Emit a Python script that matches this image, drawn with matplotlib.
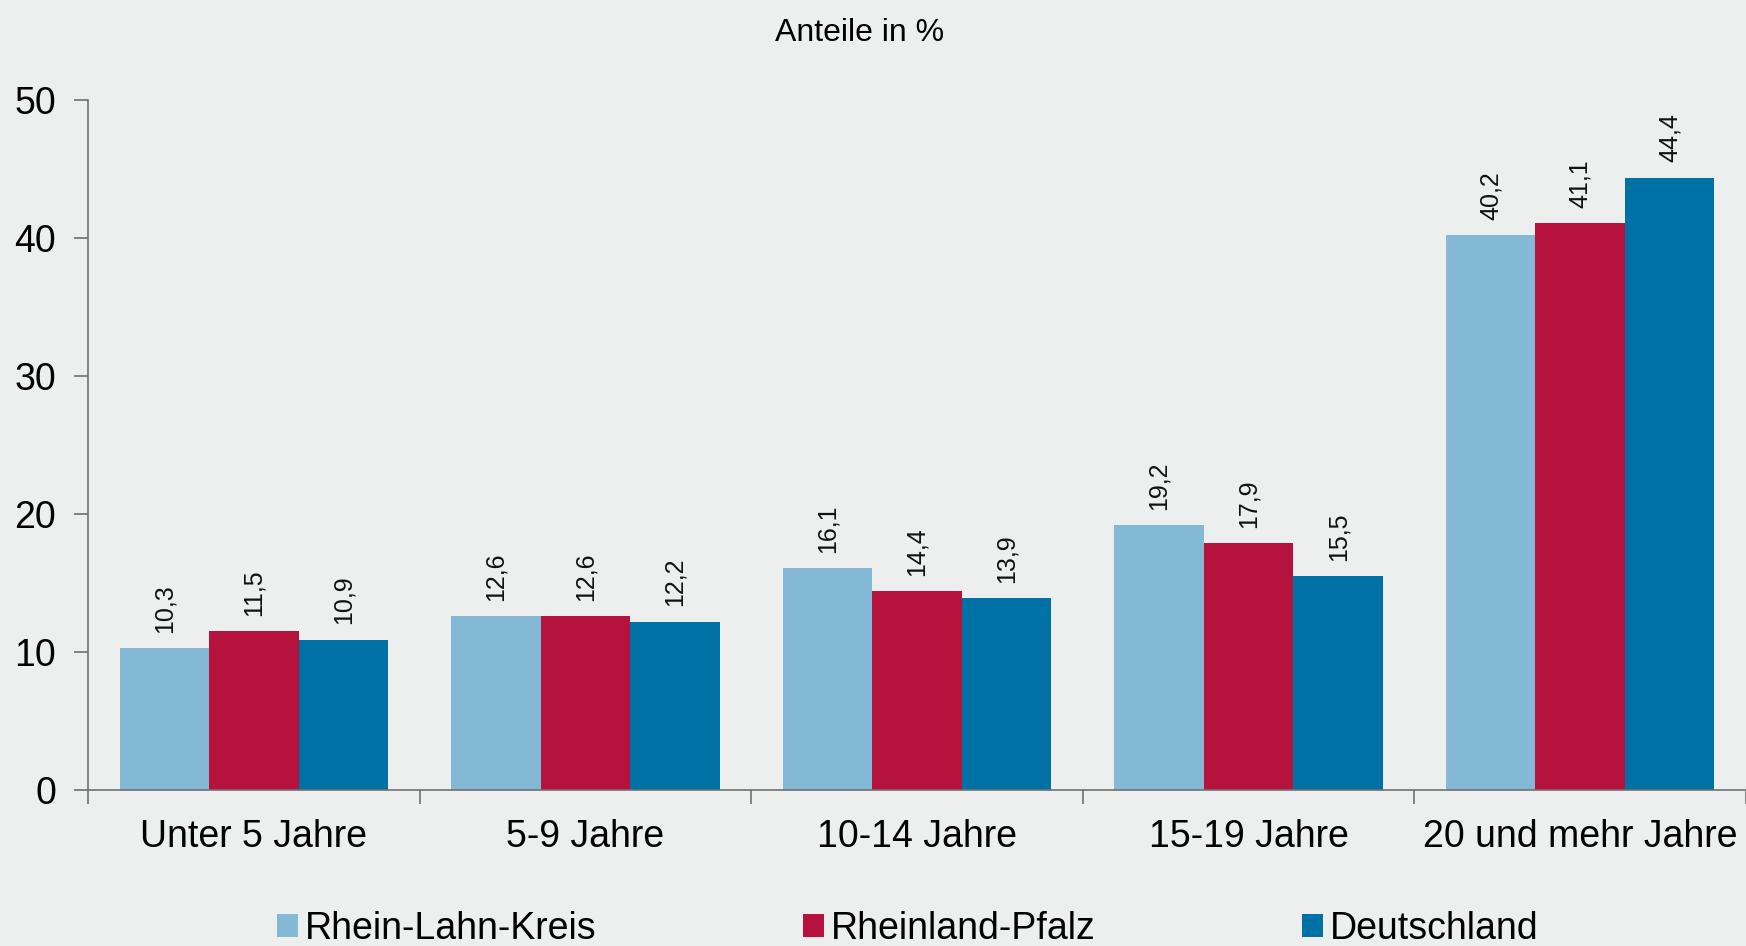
import matplotlib
matplotlib.use("Agg")
import matplotlib.pyplot as plt
import numpy as np

# Daten
kategorien = ["Unter 5 Jahre", "5-9 Jahre", "10-14 Jahre", "15-19 Jahre", "20 und mehr Jahre"]
rhein_lahn = [10.3, 12.6, 16.1, 19.2, 40.2]
rheinland_pfalz = [11.5, 12.6, 14.4, 17.9, 41.1]
deutschland = [10.9, 12.2, 13.9, 15.5, 44.4]
serien = ["Rhein-Lahn-Kreis", "Rheinland-Pfalz", "Deutschland"]
farben = ["#83B9D5", "#B5133D", "#0071A4"]
hintergrund = "#EDEFEE"

plt.rcParams['font.family'] = ['Liberation Sans', 'DejaVu Sans']

fig = plt.figure(figsize=(17.46, 9.46), dpi=100, facecolor=hintergrund)
ax = fig.add_axes([0.0504, 0.165, 0.9496, 0.729])
ax.set_facecolor(hintergrund)

x = np.arange(len(kategorien))
breite = 0.27
for k, (werte, name, farbe) in enumerate(zip([rhein_lahn, rheinland_pfalz, deutschland], serien, farben)):
    pos = x + (k - 1) * breite
    ax.bar(pos, werte, width=breite, color=farbe, label=name, linewidth=0)
    # Werte über den Balken
    for xp, v in zip(pos, werte):
        ax.annotate(f"{v:.1f}".replace(".", ","), (xp, v), xytext=(0, 11),
                    textcoords="offset points", rotation=90, ha="center", va="bottom",
                    fontsize=18, color="#111111")

ax.set_xlim(-0.5, len(kategorien) - 0.5)
ax.set_ylim(0, 50)
ax.set_yticks([0, 10, 20, 30, 40, 50])

# x-Ticks an den Gruppengrenzen, Beschriftung mittig
ax.set_xticks(np.arange(len(kategorien) + 1) - 0.5)
ax.set_xticklabels([])
ax.set_xticks(x, minor=True)
ax.set_xticklabels(kategorien, minor=True, fontsize=27)
ax.tick_params(axis="x", which="minor", length=0, pad=21)
ax.tick_params(axis="x", which="major", length=10, width=1.2, color="#707070", direction="out")
ax.tick_params(axis="y", length=10, width=1.2, color="#707070", labelsize=27, pad=13)

for s in ["top", "right"]:
    ax.spines[s].set_visible(False)
for s in ["left", "bottom"]:
    ax.spines[s].set_color("#707070")
    ax.spines[s].set_linewidth(1.2)

fig.text(0.4925, 0.965, "Anteile in %", ha="center", va="center", fontsize=23)

leg = fig.legend(loc="center", bbox_to_anchor=(0.52, 0.018), ncol=3, frameon=False,
                 fontsize=27, handlelength=0.55, handleheight=0.55, handletextpad=0.2,
                 columnspacing=5.5)

fig.savefig("out.png", dpi=100, facecolor=hintergrund)
